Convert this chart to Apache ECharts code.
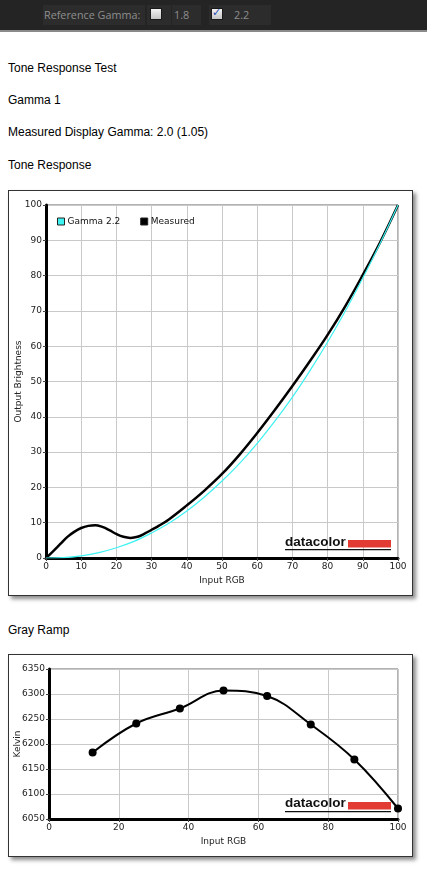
<!DOCTYPE html>
<html>
<head>
<meta charset="UTF-8">
<title>Tone Response Test</title>
<script src="https://cdn.jsdelivr.net/npm/echarts@6/dist/echarts.min.js"></script>
<style>
    body { margin: 0; background: #fff; font-family: "Liberation Sans", Arial, sans-serif; }
    .topbar { position: absolute; left: 0; top: 0; width: 427px; height: 30px; background: #242424; border-bottom: 2px solid #8a8a8a; }
    .cell { position: absolute; top: 5px; height: 20px; background: #2c2c2c; color: #8e8e8e; font: 10.8px "Open Sans", sans-serif; line-height: 20px; white-space: nowrap; }
    .cb { position: absolute; top: 8px; width: 10px; height: 10px; border: 1px solid #1a1a1a; background: linear-gradient(#f2f2f2, #c4c4c4); }
    .cb span { position: absolute; left: 0; top: -3px; color: #2b4fb8; font: bold 11px "DejaVu Sans", sans-serif; }
    .line { position: absolute; left: 8px; font-size: 12px; line-height: 14px; color: #000; }
    .box { position: absolute; left: 8px; width: 403px; border: 1px solid #333; background: #fff; box-shadow: 3px 3px 4px #8c8c8c; }
</style>
</head>
<body>

<div class="topbar">
    <div class="cell" style="left:43px;width:101px;padding-left:1px;">Reference Gamma:</div>
    <div class="cell" style="left:147px;width:24px;"></div>
    <div class="cb" style="left:150px;"></div>
    <div class="cell" style="left:172px;width:27px;padding-left:2px;">1.8</div>
    <div class="cell" style="left:209px;width:23px;"></div>
    <div class="cb" style="left:211px;"><span>&#10003;</span></div>
    <div class="cell" style="left:232px;width:37px;padding-left:2px;">2.2</div>
</div>

<div class="line" style="top:61px;">Tone Response Test</div>
<div class="line" style="top:93px;">Gamma 1</div>
<div class="line" style="top:125px;">Measured Display Gamma: 2.0 (1.05)</div>
<div class="line" style="top:158px;">Tone Response</div>

<div class="box" id="tone" style="top:190px;height:404px;"></div>

<div class="line" style="top:623px;">Gray Ramp</div>

<div class="box" id="gray" style="top:654px;height:201px;"></div>

<script type="text/javascript">
    // 读图得到的数据
    var gammaX = [0, 5, 10, 15, 20, 25, 30, 35, 40, 45, 50, 55, 60, 65, 70, 75, 80, 85, 90, 95, 100];
    var gammaY = [0, 0.1, 0.6, 1.5, 2.9, 4.7, 7.1, 9.9, 13.3, 17.3, 21.8, 26.8, 32.5, 38.8, 45.6, 53.1, 61.2, 69.9, 79.3, 89.3, 100];

    var measuredX = [0, 2, 4, 6, 8, 10, 12, 14, 16, 18, 20, 22, 24, 26, 28, 30, 32, 35, 40, 45, 50, 55, 60, 65, 70, 75, 80, 85, 90, 95, 100];
    var measuredY = [0, 1.9, 3.9, 5.9, 7.4, 8.5, 9.1, 9.3, 8.8, 7.9, 6.8, 6.0, 5.7, 6.0, 6.9, 8.0, 9.1, 11.0, 14.9, 19.1, 23.8, 29.3, 35.4, 41.9, 48.7, 55.8, 63.2, 71.3, 80.2, 89.6, 100];

    var grayX = [12.5, 25, 37.5, 50, 62.5, 75, 87.5, 100];
    var kelvin = [6183, 6241, 6271, 6307, 6296, 6239, 6169, 6071];

    function pairs(xs, ys) {
        var out = [];
        for (var i = 0; i < xs.length; i++) {
            out.push([xs[i], ys[i]]);
        }
        return out;
    }

    var tickFont = { fontFamily: 'DejaVu Sans', fontSize: 9, color: '#222' };

    function axis(min, max, interval, name, gap) {
        return {
            type: 'value',
            min: min,
            max: max,
            interval: interval,
            name: name,
            nameLocation: 'middle',
            nameGap: gap,
            nameTextStyle: tickFont,
            axisLine: { show: true, lineStyle: { color: '#000', width: 3 } },
            axisTick: { show: true, length: 3, lineStyle: { color: '#444' } },
            axisLabel: {
                margin: 4, fontFamily: 'DejaVu Sans', fontSize: 9, color: '#222',
                formatter: function (v) { return String(v); }
            },
            splitLine: { show: true, lineStyle: { color: '#c9c9c9', width: 1 } }
        };
    }

    function yAxis(min, max, interval, name, gap) {
        var a = axis(min, max, interval, name, gap);
        a.nameMoveOverlap = false;
        return a;
    }

    // datacolor 标志
    function logo(textBottom, barTop) {
        return [
            {
                type: 'text', left: 276, top: textBottom - 13, z: 10,
                style: { text: 'datacolor', fill: '#111', font: 'bold 13.5px "Liberation Sans", Arial' }
            },
            { type: 'rect', shape: { x: 339, y: barTop, width: 43, height: 7.5 }, style: { fill: '#e23b34' }, z: 10 },
            { type: 'rect', shape: { x: 276, y: barTop + 9, width: 106, height: 1.2 }, style: { fill: '#111' }, z: 10 }
        ];
    }

    var toneChart = echarts.init(document.getElementById('tone'));
    toneChart.setOption({
        animation: false,
        grid: {
            left: 37, top: 14, right: 14, bottom: 37,
            outerBoundsMode: 'none', containLabel: false,
            show: true, borderColor: '#666', borderWidth: 1
        },
        legend: {
            left: 48, top: 26, padding: 0,
            itemWidth: 7, itemHeight: 7, itemGap: 20,
            icon: 'rect',
            itemStyle: { borderColor: '#222', borderWidth: 1 },
            textStyle: { fontFamily: 'DejaVu Sans', fontSize: 9, color: '#111', padding: [0, 0, 0, -2] },
            data: ['Gamma 2.2', 'Measured']
        },
        xAxis: axis(0, 100, 10, 'Input RGB', 16),
        yAxis: yAxis(0, 100, 10, 'Output Brightness', 23),
        graphic: logo(357, 349),
        series: [
            {
                name: 'Measured',
                type: 'line',
                smooth: 0.4,
                symbol: 'none',
                data: pairs(measuredX, measuredY),
                itemStyle: { color: '#000' },
                lineStyle: { color: '#000', width: 2.5 }
            },
            {
                name: 'Gamma 2.2',
                type: 'line',
                smooth: 0.4,
                symbol: 'none',
                data: pairs(gammaX, gammaY),
                itemStyle: { color: '#3ef2f2' },
                lineStyle: { color: '#3ef2f2', width: 1.2 }
            }
        ]
    });

    var grayChart = echarts.init(document.getElementById('gray'));
    grayChart.setOption({
        animation: false,
        grid: {
            left: 40, top: 14, right: 14, bottom: 37,
            outerBoundsMode: 'none', containLabel: false,
            show: true, borderColor: '#666', borderWidth: 1
        },
        xAxis: axis(0, 100, 20, 'Input RGB', 16),
        yAxis: yAxis(6050, 6350, 50, 'Kelvin', 27),
        graphic: logo(154, 147),
        series: [
            {
                name: 'Gray Ramp',
                type: 'line',
                smooth: 0.4,
                symbol: 'circle',
                symbolSize: 8,
                data: pairs(grayX, kelvin),
                itemStyle: { color: '#000' },
                lineStyle: { color: '#000', width: 2 }
            }
        ]
    });
</script>
</body>
</html>
